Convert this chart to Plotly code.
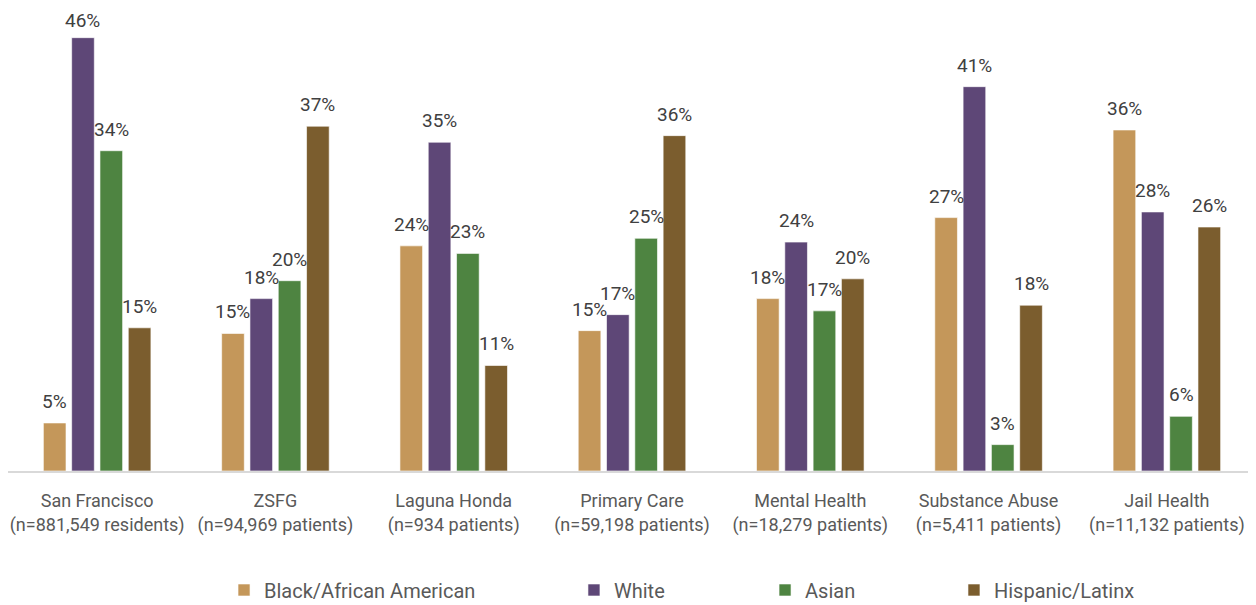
import plotly.graph_objects as go

categories = [
    "San Francisco<br>(n=881,549 residents)",
    "ZSFG<br>(n=94,969 patients)",
    "Laguna Honda<br>(n=934 patients)",
    "Primary Care<br>(n=59,198 patients)",
    "Mental Health<br>(n=18,279 patients)",
    "Substance Abuse<br>(n=5,411 patients)",
    "Jail Health<br>(n=11,132 patients)",
]
series_names = ["Black/African American", "White", "Asian", "Hispanic/Latinx"]
black = [0.051, 0.146, 0.239, 0.149, 0.183, 0.269, 0.362]
white = [0.460, 0.183, 0.349, 0.166, 0.243, 0.408, 0.275]
asian = [0.340, 0.202, 0.231, 0.247, 0.170, 0.028, 0.058]
hispanic = [0.152, 0.366, 0.112, 0.356, 0.204, 0.176, 0.259]
colors = ["#C4975A", "#5E4777", "#4E8441", "#7B5D2E"]

series = [black, white, asian, hispanic]
FONT = "Roboto, Liberation Sans, Arial"

fig = go.Figure()
legend_ids = ["legend", "legend2", "legend3", "legend4"]
for name, vals, col, lg in zip(series_names, series, colors, legend_ids):
    fig.add_trace(go.Bar(
        x=categories, y=vals, name=name, legend=lg, showlegend=True,
        marker=dict(color=col, line=dict(color="rgba(255,255,255,0.6)", width=1)),
        hoverinfo="x+y",
    ))

# geometry used to place data labels over each bar slot
plot_w = 1248
plot_h = 463
y_top = 0.4915
cat_w = plot_w / len(categories)
bargap = 0.365
slot = (1 - bargap) * cat_w / len(series)
label_font = 19
annotations = []
for i, vals in enumerate(series):
    for c, v in zip(categories, vals):
        bar_top_px = plot_h - v / y_top * plot_h
        shift = 21.5
        min_center = label_font * 0.68  # keep label box inside the figure
        if bar_top_px - shift < min_center:
            shift = bar_top_px - min_center
        annotations.append(dict(
            x=c, y=v, xref="x", yref="y", text=f"{round(v*100)}%",
            showarrow=False, xanchor="center", yanchor="middle",
            xshift=(i - 1.5) * slot, yshift=shift,
            font=dict(family=FONT, size=label_font, color="#404040"),
        ))

legend_x = [0.1731, 0.4535, 0.6066, 0.758]
legend_layout = {}
for lg, lx in zip(legend_ids, legend_x):
    legend_layout[lg] = dict(
        x=lx, y=-0.257, xanchor="left", yanchor="middle",
        orientation="h", bgcolor="rgba(0,0,0,0)",
        font=dict(family=FONT, size=20, color="#595959"),
    )

fig.update_layout(
    width=1256, height=605,
    margin=dict(l=0, r=8, t=0, b=142, autoexpand=False),
    plot_bgcolor="white", paper_bgcolor="white",
    barmode="group", bargap=bargap, bargroupgap=0.2,
    annotations=annotations, showlegend=True,
    font=dict(family=FONT, color="#595959"),
    **legend_layout,
)
fig.update_xaxes(
    showline=True, linecolor="#D9D9D9", linewidth=1.5,
    showgrid=False, ticks="", automargin=False, ticklabelstandoff=13,
    tickfont=dict(family=FONT, size=18, color="#595959"),
)
fig.update_yaxes(range=[0, y_top], visible=False, showgrid=False, automargin=False)

fig.write_html("out.html")
